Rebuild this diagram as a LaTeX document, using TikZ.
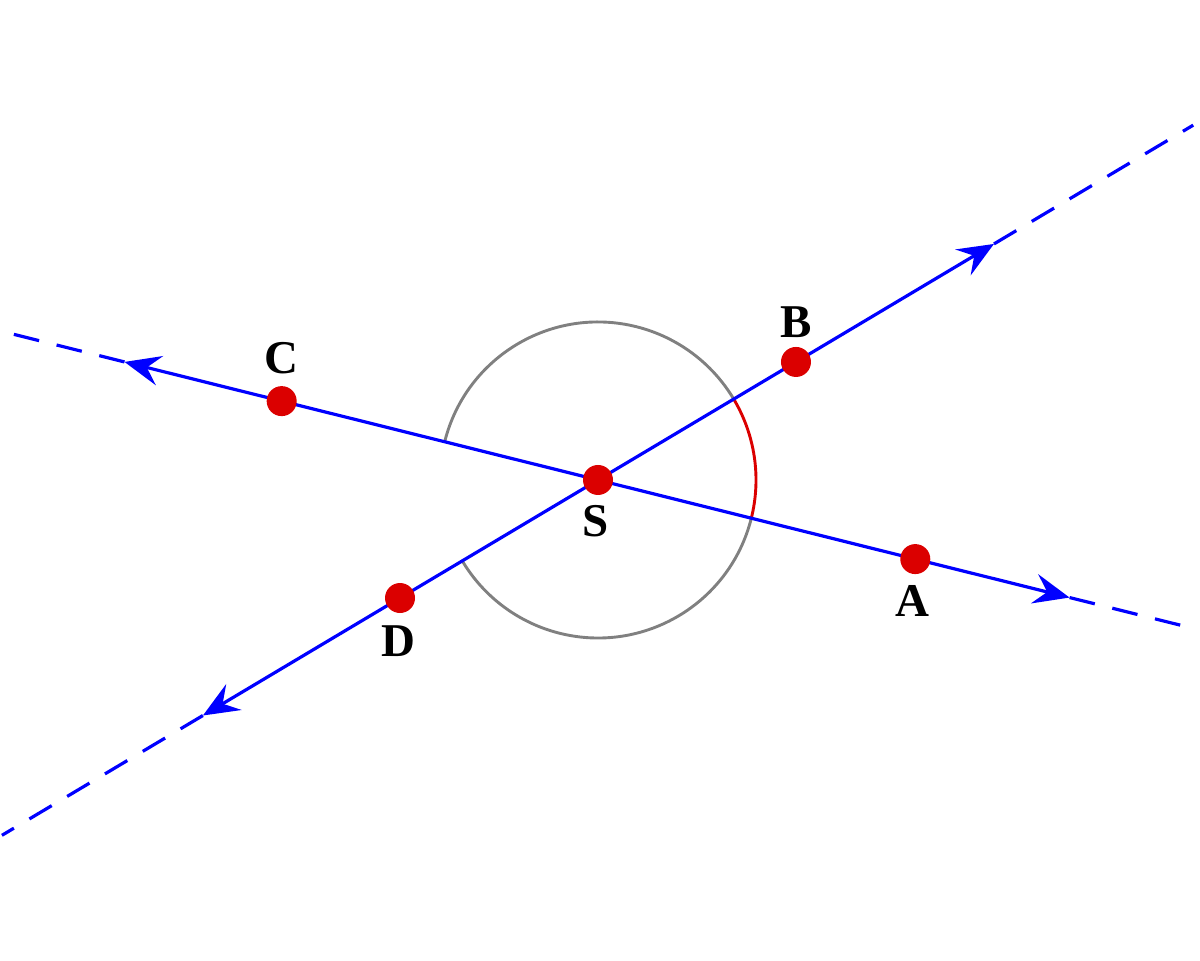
\documentclass[tikz,border=0pt]{standalone}
\usepackage{fontspec}
\setmainfont{Liberation Serif}
\usetikzlibrary{arrows.meta,calc}
\begin{document}
\begin{tikzpicture}[x=0.5pt,y=0.5pt,
 solidline/.style={blue,line width=1.6pt},
 dashline/.style={blue,line width=1.6pt,dash pattern=on 13pt off 9pt},
 twotips/.style={{Stealth[length=18pt,width=15pt,inset=6.5pt]}-{Stealth[length=18pt,width=15pt,inset=6.5pt]}},
 dot/.style={circle,fill=red!86!black,inner sep=0pt,minimum size=15pt},
 lbl/.style={font=\fontsize{23.5}{23.5}\selectfont\bfseries},
 arcg/.style={gray,line width=1.45pt},
 arcr/.style={red!86!black,line width=1.45pt}]
\useasboundingbox (0,0) rectangle (1200,961);
\coordinate (S0) at (598,481);
% line C-A (angle -14)
\coordinate (Atip) at ($(S0)+(-14:486)$);
\coordinate (Aend) at ($(S0)+(-14:609)$);
\coordinate (Ctip) at ($(S0)+(166:488)$);
\coordinate (Cend) at ($(S0)+(166:611)$);
% line D-B (angle 30.8)
\coordinate (Btip) at ($(S0)+(30.8:461)$);
\coordinate (Bend) at ($(S0)+(30.8:693)$);
\coordinate (Dtip) at ($(S0)+(210.8:460)$);
\coordinate (Dend) at ($(S0)+(210.8:694)$);
% arcs
\draw[arcg] ($(S0)+(166:158)$) arc[start angle=166, end angle=30.8, radius=158];
\draw[arcr] ($(S0)+(30.8:158)$) arc[start angle=30.8, end angle=-14, radius=158];
\draw[arcg] ($(S0)+(-14:158)$) arc[start angle=-14, end angle=-149.2, radius=158];
% lines
\draw[solidline,twotips] (Ctip) -- (Atip);
\draw[solidline,twotips] (Dtip) -- (Btip);
\draw[dashline] (Atip) -- (Aend);
\draw[dashline] (Ctip) -- (Cend);
\draw[dashline] (Btip) -- (Bend);
\draw[dashline] (Dtip) -- (Dend);
% points
\node[dot] (S) at (S0) {};
\node[dot] (A) at ($(S0)+(-14:327)$) {};
\node[dot] (C) at ($(S0)+(166:326)$) {};
\node[dot] (B) at ($(S0)+(30.8:230.5)$) {};
\node[dot] (D) at ($(S0)+(210.8:230.5)$) {};
% labels
\node[lbl] (lB) at (796,639) {B};
\node[lbl] (lC) at (281,603) {C};
\node[lbl] (lS) at (596,440) {S};
\node[lbl] (lA) at (912,360) {A};
\node[lbl] (lD) at (398,320) {D};
\end{tikzpicture}
\end{document}
